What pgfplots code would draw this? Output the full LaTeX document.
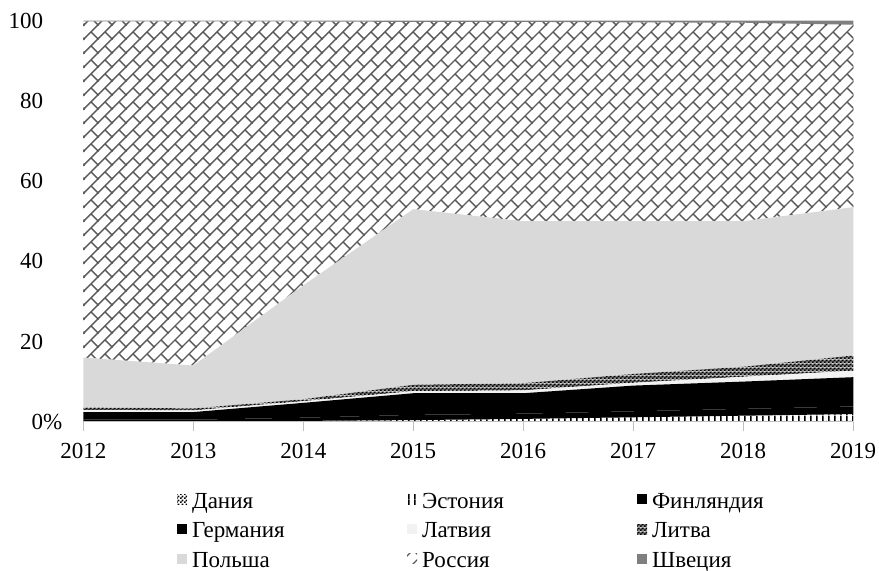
\documentclass[border=0pt]{standalone}
\usepackage{fontspec}
\setmainfont{Liberation Serif}
\usepackage{pgfplots}
\pgfplotsset{compat=1.18}
\usepackage{pgfplotstable}
\usetikzlibrary{patterns}

% diagonal brick hatch
\pgfdeclarepatternformonly{diagbrick}{\pgfqpoint{-0.5pt}{-0.5pt}}{\pgfqpoint{7.5pt}{7.5pt}}{\pgfqpoint{7pt}{7pt}}{%
  \pgfsetlinewidth{0.7pt}%
  \pgfpathmoveto{\pgfqpoint{-0.5pt}{-0.5pt}}\pgfpathlineto{\pgfqpoint{7.5pt}{7.5pt}}%
  \pgfpathmoveto{\pgfqpoint{3.5pt}{3.5pt}}\pgfpathlineto{\pgfqpoint{7.25pt}{-0.25pt}}%
  \pgfusepath{stroke}}
% fine checker
\pgfdeclarepatternformonly{checker}{\pgfpointorigin}{\pgfqpoint{2pt}{2pt}}{\pgfqpoint{2pt}{2pt}}{%
  \pgfpathrectangle{\pgfpointorigin}{\pgfqpoint{1pt}{1pt}}%
  \pgfpathrectangle{\pgfqpoint{1pt}{1pt}}{\pgfqpoint{1pt}{1pt}}%
  \pgfusepath{fill}}
% checker on grey
\pgfdeclarepatterninherentlycolored{greychecker}{\pgfpointorigin}{\pgfqpoint{2pt}{2pt}}{\pgfqpoint{2pt}{2pt}}{%
  \pgfsetfillcolor{black!45}%
  \pgfpathrectangle{\pgfpointorigin}{\pgfqpoint{2pt}{2pt}}\pgfusepath{fill}%
  \pgfsetfillcolor{black}%
  \pgfpathrectangle{\pgfpointorigin}{\pgfqpoint{1pt}{1pt}}%
  \pgfpathrectangle{\pgfqpoint{1pt}{1pt}}{\pgfqpoint{1pt}{1pt}}%
  \pgfusepath{fill}}
% vertical bars
\pgfdeclarepatternformonly{vbars}{\pgfpointorigin}{\pgfqpoint{3pt}{3pt}}{\pgfqpoint{3pt}{3pt}}{%
  \pgfpathrectangle{\pgfpointorigin}{\pgfqpoint{0.9pt}{3pt}}%
  \pgfusepath{fill}}

\definecolor{polgrey}{HTML}{D9D9D9}
\definecolor{latgrey}{HTML}{F2F2F2}
\definecolor{swegrey}{HTML}{7F7F7F}

% shares by country, %
\pgfplotstableread{
year Dan Est Fin Ger Lat Lit Pol Rus Swe
2012 0.1 0.0 0.4 1.9 0.5 0.7 12.4 83.8 0.2
2013 0.1 0.0 0.4 1.9 0.4 0.5 10.7 85.8 0.2
2014 0.1 0.1 0.8 3.7 0.4 0.5 28.4 65.8 0.2
2015 0.1 0.3 1.3 5.4 0.5 1.6 43.8 46.7 0.3
2016 0.1 0.6 1.3 5.1 0.7 1.8 40.4 49.7 0.3
2017 0.1 1.0 1.5 6.4 0.7 2.2 38.1 49.6 0.4
2018 0.1 1.4 1.7 6.8 1.2 2.5 36.3 49.5 0.5
2019 0.2 1.7 1.9 7.3 1.6 3.8 37.0 45.5 1.0
}\shares

\newcommand{\lgd}[1]{\makebox[110pt][l]{\hspace{2.5pt}#1}}

\begin{document}
\begin{tikzpicture}
\useasboundingbox (-41.65pt,-74.65pt) rectangle (397.85pt,210.85pt);
\begin{axis}[
  at={(0pt,0pt)}, anchor=south west,
  scale only axis, width=385pt, height=200.5pt,
  xmin=2012, xmax=2019, ymin=0, ymax=100,
  stack plots=y, axis on top,
  axis x line=bottom, axis y line=left,
  x axis line style={draw=black!25, line width=0.6pt, -},
  y axis line style={draw=none},
  xtick={2012,...,2019},
  xticklabels={2012,2013,2014,2015,2016,2017,2018,2019},
  ytick={0,20,...,100},
  yticklabels={0\rlap{\%},20,40,60,80,100},
  xtick style={draw=black!25, line width=0.6pt},
  ytick style={draw=none},
  tick align=outside, major tick length=4.5pt,
  ticklabel style={font=\fontsize{11.5}{13}\selectfont, inner sep=0pt},
  /pgf/number format/assume math mode=true,
  xticklabel shift=6.25pt, yticklabel shift=15.4pt,
  legend columns=3,
  legend cell align=left,
  legend style={draw=none, fill=none, inner sep=0pt, outer sep=0pt,
    at={(0.1218,-0.1745)}, anchor=north west,
    font=\fontsize{11.5}{13}\selectfont,
    nodes={inner sep=0pt, text height=8.2pt, text depth=2.6pt},
    /tikz/row sep=4pt, /tikz/column sep=0pt},
  legend image code/.code={\fill[#1] (0pt,-1pt) rectangle (5pt,4pt);},
]
\addplot[draw=none, pattern=checker, pattern color=black] table[x=year,y=Dan]{\shares} \closedcycle;
\addlegendentry{\lgd{Дания}}
\addplot[draw=none, pattern=vbars, pattern color=black] table[x=year,y=Est]{\shares} \closedcycle;
\addlegendentry{\lgd{Эстония}}
\addplot[draw=none, fill=black] table[x=year,y=Fin]{\shares} \closedcycle;
\addlegendentry{\lgd{Финляндия}}
\addplot[draw=none, fill=black] table[x=year,y=Ger]{\shares} \closedcycle;
\addlegendentry{\lgd{Германия}}
\addplot[draw=none, fill=latgrey] table[x=year,y=Lat]{\shares} \closedcycle;
\addlegendentry{\lgd{Латвия}}
\addplot[draw=none, pattern=greychecker] table[x=year,y=Lit]{\shares} \closedcycle;
\addlegendentry{\lgd{Литва}}
\addplot[draw=none, fill=polgrey] table[x=year,y=Pol]{\shares} \closedcycle;
\addlegendentry{\lgd{Польша}}
\addplot[draw=none, pattern=diagbrick, pattern color=black!65] table[x=year,y=Rus]{\shares} \closedcycle;
\addlegendentry{\lgd{Россия}}
\addplot[draw=none, fill=swegrey] table[x=year,y=Swe]{\shares} \closedcycle;
\addlegendentry{\lgd{Швеция}}
\end{axis}
\end{tikzpicture}
\end{document}
